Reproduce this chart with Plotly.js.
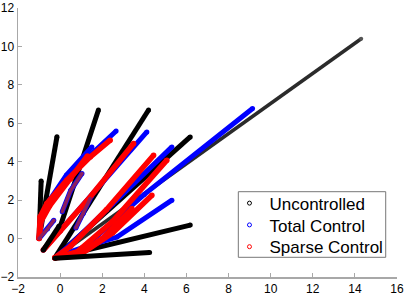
<!DOCTYPE html>
<html>
<head>
<meta charset="utf-8">
<script src="https://cdn.plot.ly/plotly-3.0.1.min.js"></script>
<style>html,body{margin:0;padding:0;background:#fff;}#chart{width:407px;height:295px;}</style>
</head>
<body>
<div id="chart"></div>
<script>
// Series names
const seriesNames = ["Uncontrolled", "Total Control", "Sparse Control"];

// Uncontrolled trajectories drawn beneath the controlled ones
const uncUnderX = [
  [-1.0, -0.9],
  [-1.0, -0.15],
  [-0.8, 0.0, 1.82],
  [-0.25, 4.2],
  [-0.25, 6.18],
  [-0.25, 6.18]
];
const uncUnderY = [
  [0.0, 3.0],
  [0.0, 5.3],
  [-0.6, 0.6, 6.69],
  [-1.0, 6.69],
  [-1.0, 5.29],
  [-1.0, 0.7]
];
// Uncontrolled trajectories drawn on top
const uncTopX = [
  [-0.8, -0.05],
  [-0.25, 4.25]
];
const uncTopY = [
  [-0.6, 0.65],
  [-1.02, -0.72]
];
// Long uncontrolled trajectory (grey line)
const uncLongX = [-0.25, 14.3];
const uncLongY = [-1.0, 10.4];

// Total control trajectories
const totX = [
  [-1.0, -0.9, -0.5, 0.3, 1.51],
  [-1.0, -0.85, 0.0, 1.0, 2.66],
  [0.1, 0.5, 1.04],
  [-0.8, 0.0, 1.5, 4.12],
  [-0.25, 0.5, 2.5, 5.31],
  [-0.25, 1.0, 4.0, 9.14],
  [-0.25, 0.0, 1.0, 2.7, 5.31],
  [0.75, 1.1, 1.43],
  [-1.0, -0.6, -0.3]
];
const totY = [
  [0.0, 1.0, 2.0, 3.3, 4.77],
  [0.0, 1.3, 2.52, 3.9, 5.6],
  [1.4, 2.5, 3.39],
  [-0.6, 0.4, 2.2, 5.55],
  [-1.0, -0.3, 1.8, 4.77],
  [-1.0, -0.6, 2.3, 6.77],
  [-1.0, -0.87, -0.5, 0.08, 2.0],
  [0.55, 1.3, 2.08],
  [0.0, 0.5, 0.95]
];

// Sparse control trajectories
const spX = [
  [-1.0, -0.95, -0.63, 0.32, 1.43, 2.38],
  [-1.0, -0.9, -0.5, 0.5, 1.3],
  [-0.8, 0.0, 1.3, 3.49],
  [-0.25, 0.5, 2.2, 4.44],
  [-0.25, 0.8, 2.5, 5.07],
  [-0.25, 1.0, 2.5, 4.36],
  [-0.25, 0.8, 2.0, 3.41]
];
const spY = [
  [0.0, 1.13, 1.82, 3.04, 4.25, 5.12],
  [0.0, 0.9, 1.7, 3.1, 4.3],
  [-0.6, 0.4, 2.0, 4.95],
  [-1.0, -0.4, 1.5, 4.34],
  [-1.0, -0.7, 0.9, 4.08],
  [-1.0, -0.8, 0.3, 2.26],
  [-1.0, -0.9, 0.0, 1.56]
];
// Sparse control trajectories overlapping total control (appear purple)
const spOverX = [
  [0.1, 0.5, 1.04],
  [0.75, 1.1, 1.43],
  [-1.0, -0.6, -0.3]
];
const spOverY = [
  [1.4, 2.5, 3.39],
  [0.55, 1.3, 2.08],
  [0.0, 0.5, 0.95]
];

const traces = [];
function addLines(xs, ys, color, width, opacity) {
  xs.forEach((x, i) => {
    traces.push({
      type: "scatter", mode: "lines+markers", x: x, y: ys[i],
      line: {color: color, width: width},
      marker: {color: color, size: width, line: {width: 0}},
      opacity: opacity, showlegend: false, hoverinfo: "skip"
    });
  });
}
addLines(uncUnderX, uncUnderY, "#000000", 5, 1);
traces.push({
  type: "scatter", mode: "lines+markers", x: uncLongX, y: uncLongY,
  line: {color: "#2b2b2b", width: 3.5},
  marker: {color: "#555555", size: 4, line: {width: 0}},
  showlegend: false, hoverinfo: "skip"
});
addLines(totX, totY, "#0000ff", 5, 1);
addLines(spX, spY, "#ff0000", 5.5, 1);
addLines(spOverX, spOverY, "#8e1f5e", 3.5, 1);
addLines(uncTopX, uncTopY, "#000000", 5, 1);

// Legend entries (one legend per row so the spacing can follow the reference)
const legendColors = ["#000000", "#0000ff", "#ff0000"];
const legendIds = ["legend", "legend2", "legend3"];
seriesNames.forEach((n, i) => {
  traces.push({
    type: "scatter", mode: "markers", x: [null], y: [null], name: n,
    legend: legendIds[i],
    marker: {symbol: "circle-open", size: 4, color: legendColors[i], line: {width: 1, color: legendColors[i]}},
    showlegend: true
  });
});

const axisCommon = {
  showgrid: false, zeroline: false, showline: true,
  linecolor: "#a8a8a8", linewidth: 1.5,
  ticks: "inside", ticklen: 4, tickcolor: "#a8a8a8", tickwidth: 1,
  dtick: 2, tick0: 0,
  tickfont: {family: "Liberation Sans, Arial, sans-serif", size: 12, color: "#000"},
  fixedrange: true
};

const legendFont = {family: "Liberation Sans, Arial, sans-serif", size: 17, color: "#000"};
const rowY = [0.273, 0.192, 0.111];
function legendAt(y) {
  return {
    x: 0.558, y: y, xanchor: "left", yanchor: "middle",
    bgcolor: "rgba(0,0,0,0)", borderwidth: 0,
    font: legendFont, itemwidth: 30
  };
}

const layout = {
  width: 407, height: 295,
  margin: {l: 18, r: 10, t: 8, b: 18, pad: 0},
  paper_bgcolor: "#fff", plot_bgcolor: "#fff",
  xaxis: Object.assign({}, axisCommon, {range: [-2, 16]}),
  yaxis: Object.assign({}, axisCommon, {range: [-2, 12]}),
  showlegend: true,
  legend: legendAt(rowY[0]),
  legend2: legendAt(rowY[1]),
  legend3: legendAt(rowY[2]),
  shapes: [{
    type: "rect", xref: "paper", yref: "paper",
    x0: 0.5813, x1: 0.9702, y0: 0.0732, y1: 0.3171,
    line: {color: "#777777", width: 1}, fillcolor: "#ffffff", layer: "above"
  }]
};

Plotly.newPlot("chart", traces, layout, {staticPlot: true, displayModeBar: false});
</script>
</body>
</html>
